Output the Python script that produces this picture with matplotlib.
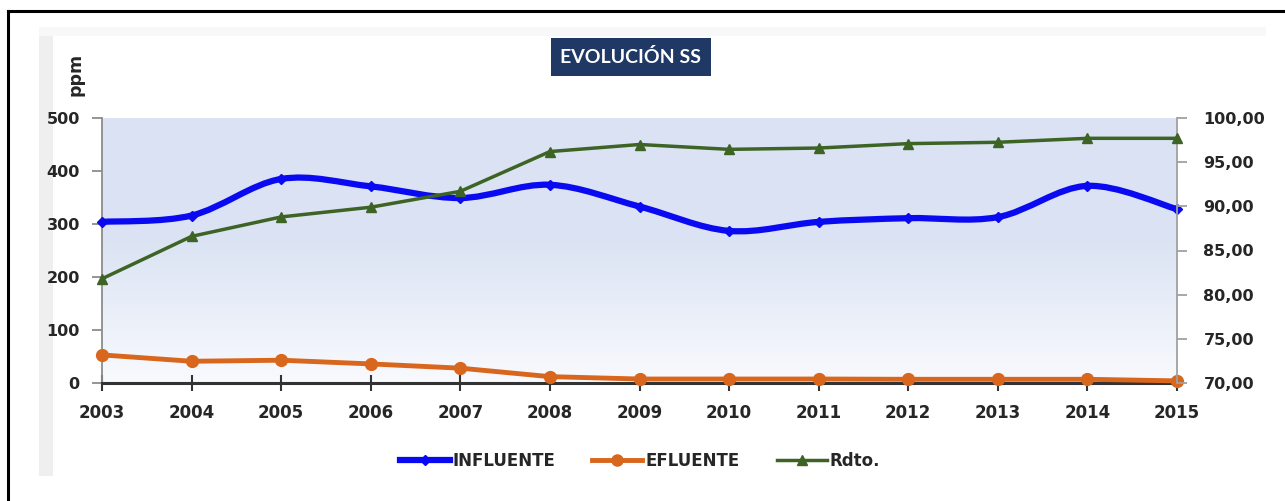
import numpy as np
import matplotlib
matplotlib.use("Agg")
import matplotlib.pyplot as plt
from matplotlib.path import Path
from matplotlib.patches import PathPatch, Rectangle
from matplotlib.lines import Line2D

# ---- data ----
years = [2003, 2004, 2005, 2006, 2007, 2008, 2009, 2010, 2011, 2012, 2013, 2014, 2015]
influente = [304, 316, 385, 371, 349, 374, 333, 287, 304, 311, 313, 372, 328]
efluente = [53, 41, 43, 36, 28, 12, 7.5, 7.5, 7.5, 7, 7, 7, 4]
rdto = [81.8, 86.6, 88.8, 89.9, 91.7, 96.2, 97.0, 96.45, 96.6, 97.1, 97.25, 97.7, 97.7]
left_ticks = [0, 100, 200, 300, 400, 500]
right_ticks = [70, 75, 80, 85, 90, 95, 100]
title = "EVOLUCIÓN SS"
ylabel = "ppm"
labels = ["INFLUENTE", "EFLUENTE", "Rdto."]

C_BLUE = "#0a0af2"
C_ORANGE = "#d8661c"
C_GREEN = "#3d6325"
C_TXT = "#262626"
TFONT = ["Lato", "DejaVu Sans"]
FONT = ["DejaVu Sans"]

W, H = 1285, 501
fig = plt.figure(figsize=(W / 100, H / 100), dpi=100)
fig.patch.set_facecolor("white")

def fx(px):
    return px / W

def fy(py):
    return 1 - py / H

# outer border (top + left)
fig.add_artist(Line2D([fx(8), fx(1285)], [fy(11), fy(11)], color="black", lw=2.2, transform=fig.transFigure))
fig.add_artist(Line2D([fx(8), fx(8)], [fy(11), fy(501)], color="black", lw=2.2, transform=fig.transFigure))

# chart area faint shadow
fig.add_artist(Rectangle((fx(39), fy(476)), fx(14), (476 - 27) / H, transform=fig.transFigure,
                         facecolor="#efefef", edgecolor="none", zorder=0))
fig.add_artist(Rectangle((fx(39), fy(36)), fx(1266 - 39), 9 / H, transform=fig.transFigure,
                         facecolor="#f8f8f8", edgecolor="none", zorder=0))
fig.add_artist(Rectangle((fx(53), fy(476)), fx(1266 - 53), (476 - 36) / H, transform=fig.transFigure,
                         facecolor="white", edgecolor="none", zorder=0))

ax = fig.add_axes([fx(102), fy(383), fx(1177 - 102), (383 - 118) / H])
ax.set_facecolor("none")

# gradient background
top = np.array([0.855, 0.890, 0.953])
bot = np.array([0.975, 0.980, 0.995])
t = np.linspace(0, 1, 256)[:, None]  # 0 top -> 1 bottom
w = np.clip((t - 0.45) / 0.55, 0, 1)
grad = top[None, :] * (1 - w) + bot[None, :] * w
grad = grad[:, None, :]
ax.imshow(grad, extent=[0, 1, 0, 1], transform=ax.transAxes, aspect="auto", zorder=0)

x = np.array(years, dtype=float)
ax.set_xlim(years[0], years[-1])
ax.set_ylim(left_ticks[0], left_ticks[-1])

# smoothed INFLUENTE (Catmull-Rom as Bezier)
yi = np.array(influente, dtype=float)
P = np.column_stack([x, yi])
verts = [P[0]]
codes = [Path.MOVETO]
n = len(P)
for i in range(n - 1):
    p0 = P[i - 1] if i > 0 else P[i]
    p1 = P[i]
    p2 = P[i + 1]
    p3 = P[i + 2] if i + 2 < n else P[i + 1]
    c1 = p1 + (p2 - p0) / 6.0
    c2 = p2 - (p3 - p1) / 6.0
    verts += [c1, c2, p2]
    codes += [Path.CURVE4] * 3
ax.add_patch(PathPatch(Path(verts, codes), facecolor="none", edgecolor=C_BLUE, lw=4.5,
                       capstyle="round", joinstyle="round", zorder=4, clip_on=False))
ax.plot(x, yi, ls="none", marker="D", ms=5.5, color=C_BLUE, zorder=5, clip_on=False)

ax.plot(x, efluente, color=C_ORANGE, lw=3.5, marker="o", ms=8.5, zorder=4, clip_on=False,
        solid_capstyle="round")

ax2 = ax.twinx()
ax2.set_ylim(right_ticks[0], right_ticks[-1])
ax2.plot(x, rdto, color=C_GREEN, lw=2.5, marker="^", ms=7, zorder=3, clip_on=False)
ax.set_zorder(1)
ax2.set_zorder(2)
ax2.patch.set_visible(False)

# spines / ticks
for a in (ax, ax2):
    a.spines["top"].set_visible(False)
ax.spines["right"].set_visible(False)
ax.spines["left"].set_color("#8c8c8c")
ax.spines["left"].set_linewidth(1.3)
ax.spines["bottom"].set_color("#333333")
ax.spines["bottom"].set_linewidth(2.2)
ax2.spines["left"].set_visible(False)
ax2.spines["bottom"].set_visible(False)
ax2.spines["right"].set_color("#a0a0a0")
ax2.spines["right"].set_linewidth(1.3)

ax.set_xticks(years)
ax.set_xticklabels([str(y) for y in years])
ax.set_yticks(left_ticks)
ax.set_yticklabels([str(v) for v in left_ticks])
ax2.set_yticks(right_ticks)
ax2.set_yticklabels([f"{v:.2f}".replace(".", ",") for v in right_ticks])

ax.tick_params(axis="x", direction="inout", length=12, width=1.5, color="#333333", pad=9,
               labelsize=12, labelcolor=C_TXT)
ax.tick_params(axis="y", direction="out", length=7, width=1.3, color="#8c8c8c", pad=9,
               labelsize=11.5, labelcolor=C_TXT)
ax2.tick_params(axis="y", direction="out", length=7, width=1.3, color="#a0a0a0", pad=12,
                labelsize=11.5, labelcolor=C_TXT)
for lab in ax.get_xticklabels() + ax.get_yticklabels() + ax2.get_yticklabels():
    lab.set_fontfamily(FONT)
    lab.set_fontweight("bold")

# title box
fig.text(fx(631), fy(57), title, ha="center", va="center", color="white", fontsize=14,
         fontweight="bold", family=TFONT,
         bbox=dict(boxstyle="square,pad=0.5", facecolor="#1f3864", edgecolor="none"))

# ppm label
fig.text(fx(75), fy(74), ylabel, rotation=90, ha="center", va="center", color=C_TXT,
         fontsize=12.5, fontweight="bold", family=FONT)

# legend
handles = [
    Line2D([], [], color=C_BLUE, lw=4.5, marker="D", ms=5),
    Line2D([], [], color=C_ORANGE, lw=3.5, marker="o", ms=8),
    Line2D([], [], color=C_GREEN, lw=2.5, marker="^", ms=7),
]
leg = fig.legend(handles, labels, loc="center", bbox_to_anchor=(fx(640), fy(461)), ncol=3,
                 frameon=False, handlelength=3.0, handletextpad=0.2, columnspacing=2.2,
                 prop=dict(family=FONT, weight="bold", size=12))
for txt in leg.get_texts():
    txt.set_color(C_TXT)

fig.savefig("out.png", dpi=100, facecolor="white")
